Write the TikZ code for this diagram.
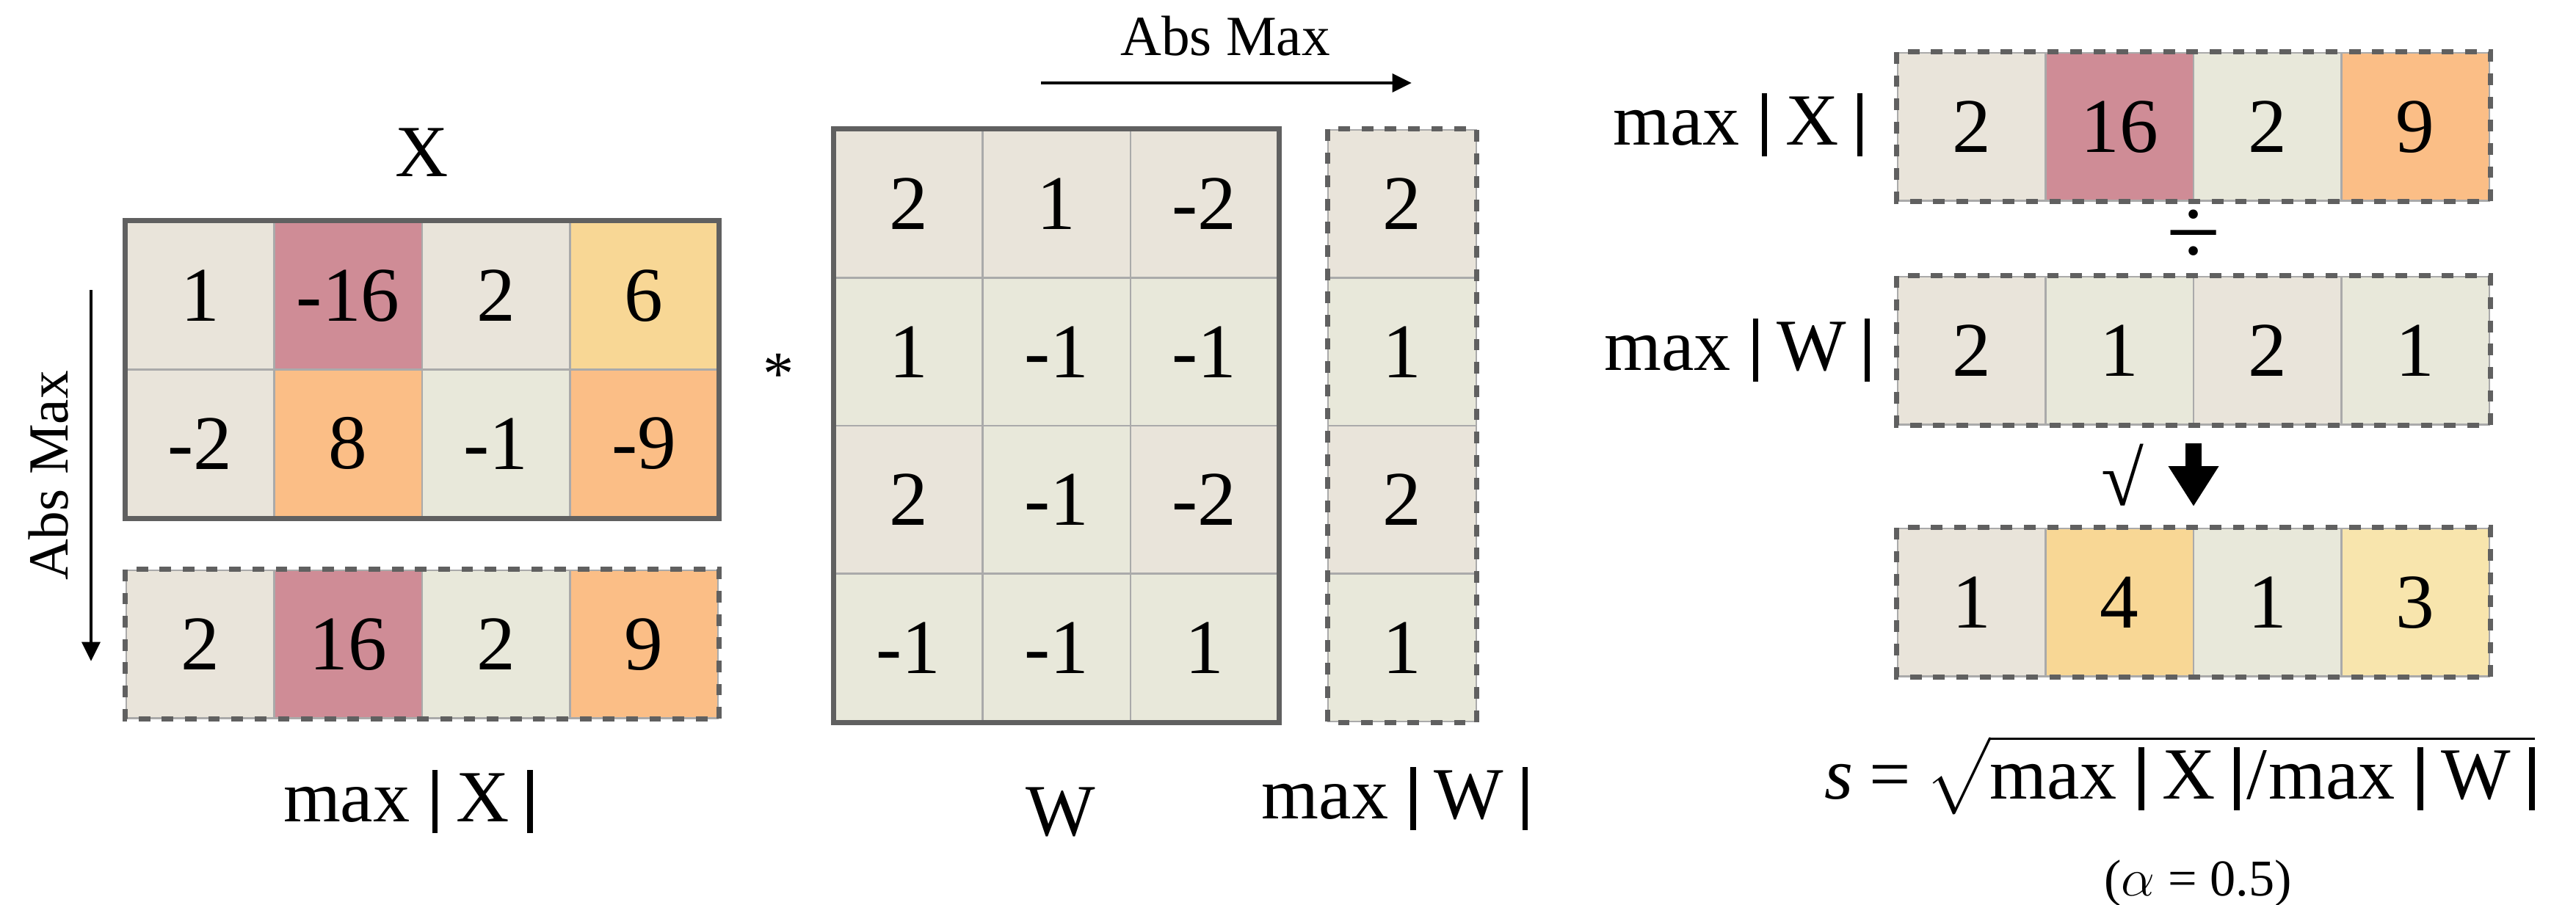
\documentclass[tikz,border=0pt]{standalone}
\usepackage{amsmath}
\usepackage{fontspec}
\setmainfont{Liberation Serif}
\usepackage{tikz}
\usetikzlibrary{
	arrows.meta,
	calc,
	positioning
}
\definecolor{CellTan}{HTML}{E9E4DA}
\definecolor{CellSage}{HTML}{E8E8DA}
\definecolor{CellRose}{HTML}{CF8C96}
\definecolor{CellSand}{HTML}{F8D795}
\definecolor{CellPeach}{HTML}{FBBE86}
\definecolor{CellCream}{HTML}{F8E5AD}
\definecolor{FrameGray}{HTML}{606060}
\definecolor{GridGray}{HTML}{AAAAAA}

% max | . |
\newcommand{\absbar}{\rule[-0.16em]{0.075em}{0.86em}}
\newcommand{\maxabs}[1]{max\hspace{.3em}\absbar\hspace{.25em}#1\hspace{.25em}\absbar}

\tikzset{
	cell/.style={draw=GridGray, line width=0.6pt, minimum size=2.015cm, inner sep=0pt,
		font=\fontsize{30}{36}\selectfont},
	frame/.style={draw=FrameGray, line width=2pt},
	dashframe/.style={draw=FrameGray, line width=2pt, dash pattern=on 4.5pt off 4.5pt},
	lbl/.style={font=\fontsize{28.5}{34}\selectfont, inner sep=0pt},
	abslbl/.style={font=\fontsize{22}{26}\selectfont, inner sep=0pt},
	absarrow/.style={line width=1.4pt, -{Triangle[length=7.5pt,width=7pt]}}
}

\begin{document}
\begin{tikzpicture}
		\useasboundingbox (0,0) rectangle (35.09,-12.32);
		\pgfmathsetmacro{\cw}{2.015}
		
		% 矩阵 X
		\foreach \v/\c [count=\i] in {1/CellTan,-16/CellRose,2/CellTan,6/CellSand}
			\node[cell, fill=\c] (xa\i) at ({1.72+\cw*(\i-0.5)},-4.0275) {\v};
		\foreach \v/\c [count=\i] in {-2/CellTan,8/CellPeach,-1/CellSage,-9/CellPeach}
			\node[cell, fill=\c] (xb\i) at ({1.72+\cw*(\i-0.5)},-6.0425) {\v};
		\draw[frame] (xa1.north west) rectangle (xb4.south east);
		\node[lbl, anchor=base] (xlab) at (5.75,-2.40) {X};
		
		% 按列取绝对值最大
		\foreach \v/\c [count=\i] in {2/CellTan,16/CellRose,2/CellSage,9/CellPeach}
			\node[cell, fill=\c] (xm\i) at ({1.72+\cw*(\i-0.5)},-8.7775) {\v};
		\draw[dashframe] (xm1.north west) rectangle (xm4.south east);
		\node[lbl, anchor=base] (xmaxlab) at (5.56,-11.19) {\maxabs{X}};
		
		\coordinate (vtop) at (1.24,-3.95);
		\coordinate (vbot) at (1.24,-9.01);
		\draw[absarrow] (vtop) -- (vbot);
		\node[abslbl, rotate=90] (vabs) at (0.66,-6.48) {Abs Max};
		
		\node[font=\fontsize{24}{28}\selectfont, inner sep=0pt] (star) at (10.61,-5.10) {*};
		
		% 矩阵 W
		\foreach \row [count=\j] in {{2/CellTan,1/CellTan,-2/CellTan},
				{1/CellSage,-1/CellSage,-1/CellSage},
				{2/CellTan,-1/CellSage,-2/CellTan},
				{-1/CellSage,-1/CellSage,1/CellSage}}
			\foreach \v/\c [count=\i] in \row
				\node[cell, fill=\c] (w\j\i) at ({11.37+\cw*(\i-0.5)},{-1.77-\cw*(\j-0.5)}) {\v};
		\draw[frame] (w11.north west) rectangle (w43.south east);
		\node[lbl, anchor=base] (wlab) at (14.45,-11.38) {W};
		
		% 按行取绝对值最大
		\foreach \v/\c [count=\j] in {2/CellTan,1/CellSage,2/CellTan,1/CellSage}
			\node[cell, fill=\c] (wm\j) at (19.10,{-1.77-\cw*(\j-0.5)}) {\v};
		\draw[dashframe] (wm1.north west) rectangle (wm4.south east);
		\node[lbl, anchor=base] (wmaxlab) at (19.00,-11.15) {\maxabs{W}};
		
		\coordinate (htop) at (14.18,-1.13);
		\coordinate (hend) at (19.23,-1.13);
		\draw[absarrow] (htop) -- (hend);
		\node[abslbl, anchor=base] (habs) at (16.69,-0.75) {Abs Max};
		
		% 右侧: 相除再开方
		\foreach \v/\c [count=\i] in {2/CellTan,16/CellRose,2/CellSage,9/CellPeach}
			\node[cell, fill=\c] (ra\i) at ({25.85+\cw*(\i-0.5)},-1.7275) {\v};
		\draw[dashframe] (ra1.north west) rectangle (ra4.south east);
		\node[lbl, anchor=base east] (ralab) at (25.38,-1.97) {\maxabs{X}};
		
		\foreach \v/\c [count=\i] in {2/CellTan,1/CellSage,2/CellTan,1/CellSage}
			\node[cell, fill=\c] (rb\i) at ({25.85+\cw*(\i-0.5)},-4.7775) {\v};
		\draw[dashframe] (rb1.north west) rectangle (rb4.south east);
		\node[lbl, anchor=base east] (rblab) at (25.48,-5.04) {\maxabs{W}};
		
		\node[font=\fontsize{38}{44}\selectfont, inner sep=0pt] (divsym) at (29.88,-3.24) {÷};
		
		\foreach \v/\c [count=\i] in {1/CellTan,4/CellSand,1/CellSage,3/CellCream}
			\node[cell, fill=\c] (rc\i) at ({25.85+\cw*(\i-0.5)},-8.2075) {\v};
		\draw[dashframe] (rc1.north west) rectangle (rc4.south east);
		
		\coordinate (sqtop) at (29.88,-6.04);
		\coordinate (sqtip) at (29.88,-6.90);
		\draw[line width=2.2mm, -{Triangle[length=5.5mm,width=6.5mm]}] (sqtop) -- (sqtip);
		\node[font=\fontsize{30}{36}\selectfont, inner sep=0pt] (sqlab) at (28.91,-6.47) {√};
		
		% 缩放因子
		\node[lbl, anchor=base west] (formula) at (24.85,-10.88)
			{\textit{s}\hspace{.22em}=\hspace{.2em}$\sqrt{\text{\maxabs{X}\hspace{.1em}/\hspace{.02em}\maxabs{W}}}$};
		\node[font=\fontsize{20}{24}\selectfont, inner sep=0pt, anchor=base] (alphalab) at (29.94,-12.20)
			{($\alpha$ = 0.5)};
	\end{tikzpicture}
\end{document}
